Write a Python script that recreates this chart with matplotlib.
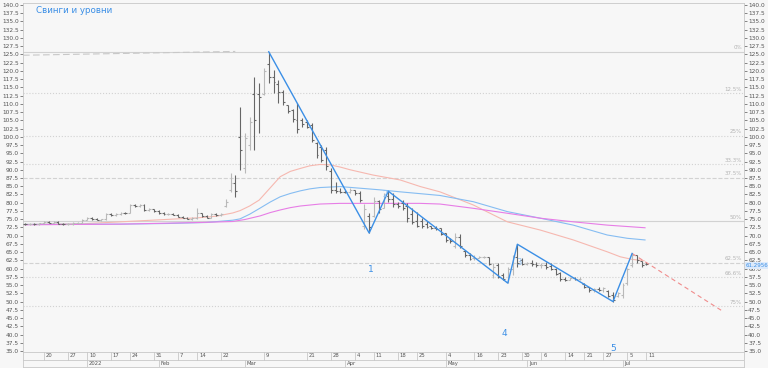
import matplotlib
matplotlib.use('Agg')
import matplotlib.pyplot as plt
import numpy as np

# OHLC bars, one per trading day (index = position on the x axis)
opens = [73.6, 73.5, 73.6, 73.4, 73.7, 74.1, 73.9, 74.2, 73.6, 73.5,
         73.6, 73.7, 73.8, 74.9, 75.4, 75.0, 74.8, 75.0, 76.5, 76.2,
         76.6, 77.0, 76.9, 79.2, 79.0, 79.4, 77.9, 78.0, 77.5, 76.8,
         76.6, 76.7, 76.4, 75.8, 75.5, 75.2, 75.3, 76.8, 75.9, 75.5,
         76.5, 76.3, 78.9, 84.0, 86.0, 100.0, 90.5, 97.5, 113.0, 113.0,
         113.0, 122.0, 118.0, 116.0, 113.5, 109.5, 108.0, 105.0, 105.0, 104.5,
         103.5, 98.0, 97.0, 96.0, 89.5, 84.0, 83.6, 83.4, 83.2, 83.8,
         83.0, 73.0, 76.0, 76.0, 80.5, 78.5, 82.0, 81.0, 79.5, 79.8,
         79.0, 76.5, 74.5, 74.5, 73.5, 72.8, 72.4, 72.2, 70.9, 69.0,
         67.0, 69.5, 65.4, 64.2, 63.2, 63.3, 63.5, 63.6, 58.0, 61.0,
         58.2, 56.0, 60.0, 63.5, 62.5, 61.5, 61.6, 61.3, 61.0, 61.2,
         60.8, 60.0, 58.6, 57.0, 56.6, 57.2, 56.8, 55.2, 54.4, 53.6,
         53.8, 53.5, 53.3, 52.0, 51.8, 52.0, 55.5, 61.0, 64.0, 62.2,
         61.5]
highs = [73.9, 73.8, 73.9, 73.8, 74.3, 74.4, 74.4, 74.3, 73.9, 73.8,
         74.0, 74.1, 75.1, 75.7, 75.6, 75.3, 75.2, 76.8, 77.0, 76.9,
         77.3, 77.3, 79.5, 79.6, 79.7, 79.6, 78.3, 78.2, 77.8, 77.1,
         76.9, 77.0, 76.6, 76.1, 75.8, 75.6, 78.4, 77.0, 76.2, 76.8,
         77.0, 76.9, 81.0, 89.1, 88.4, 109.1, 101.1, 106.1, 118.2, 116.2,
         120.8, 125.8, 120.3, 117.2, 114.2, 109.8, 108.3, 110.2, 105.6, 105.1,
         104.1, 98.5, 97.5, 97.0, 90.5, 86.4, 84.4, 84.0, 84.4, 83.9,
         83.6, 79.5, 76.9, 81.8, 80.8, 82.9, 83.5, 82.8, 80.3, 80.8,
         79.9, 78.4, 77.3, 75.3, 74.5, 72.9, 72.8, 72.2, 70.9, 69.3,
         70.7, 70.5, 65.6, 64.6, 64.0, 63.9, 63.9, 63.6, 61.6, 61.6,
         58.6, 60.6, 64.1, 67.4, 63.1, 62.1, 62.6, 62.0, 61.6, 62.1,
         61.6, 60.1, 59.1, 57.6, 57.6, 57.5, 57.4, 55.5, 54.5, 54.2,
         54.3, 54.5, 53.5, 53.0, 53.0, 55.5, 60.1, 64.6, 64.1, 62.4,
         62.0]
lows = [73.3, 73.3, 73.2, 73.2, 73.5, 73.8, 73.7, 73.5, 73.3, 73.2,
        73.3, 73.4, 73.7, 74.7, 74.9, 74.7, 74.5, 74.9, 75.9, 75.9,
        76.3, 76.6, 76.8, 78.8, 78.7, 77.6, 77.5, 77.3, 76.6, 76.3,
        76.2, 76.2, 75.6, 75.3, 75.0, 74.8, 75.1, 75.6, 75.3, 75.3,
        76.0, 75.9, 78.8, 83.3, 81.8, 89.9, 89.1, 96.0, 96.0, 101.1,
        112.7, 116.2, 113.2, 110.2, 109.6, 107.1, 104.6, 101.1, 103.1, 102.6,
        98.5, 93.5, 92.5, 89.9, 82.9, 82.9, 82.9, 82.9, 82.9, 82.4,
        80.3, 72.0, 70.8, 75.7, 77.0, 78.3, 80.3, 78.8, 78.4, 77.8,
        74.2, 73.5, 72.7, 72.2, 72.2, 71.9, 71.8, 70.2, 68.2, 67.7,
        66.2, 66.2, 63.6, 62.6, 62.6, 63.3, 63.2, 61.1, 57.1, 57.1,
        56.5, 55.6, 58.1, 60.6, 61.1, 61.0, 60.8, 60.6, 60.3, 60.0,
        59.6, 58.1, 56.1, 56.1, 56.6, 56.4, 56.4, 54.0, 53.0, 53.0,
        53.2, 53.0, 51.5, 50.0, 51.5, 51.0, 55.0, 60.6, 61.6, 60.6,
        61.0]
closes = [73.5, 73.6, 73.4, 73.7, 74.1, 73.9, 74.2, 73.6, 73.5, 73.6,
          73.7, 73.8, 74.9, 75.4, 75.0, 74.8, 75.0, 76.5, 76.2, 76.6,
          77.0, 76.9, 79.2, 79.0, 79.4, 77.9, 78.0, 77.5, 76.8, 76.6,
          76.7, 76.4, 75.8, 75.5, 75.2, 75.3, 76.8, 75.9, 75.5, 76.5,
          76.3, 76.7, 80.3, 86.0, 83.5, 96.0, 99.5, 104.5, 105.0, 112.0,
          120.0, 118.0, 116.5, 113.5, 110.5, 107.8, 105.5, 102.5, 104.0, 103.0,
          99.0, 94.5, 93.0, 91.0, 84.0, 83.6, 83.4, 83.2, 83.8, 82.8,
          80.8, 78.0, 72.5, 80.5, 78.0, 82.0, 81.0, 79.5, 79.0, 78.5,
          75.5, 74.0, 73.0, 72.8, 72.6, 72.2, 72.0, 70.6, 68.8, 68.3,
          69.5, 66.8, 64.2, 63.0, 63.3, 63.6, 63.6, 61.5, 60.5, 57.5,
          57.0, 60.0, 63.5, 61.8, 61.5, 61.6, 61.3, 61.0, 61.2, 60.5,
          60.0, 58.5, 56.8, 56.6, 57.2, 56.8, 56.9, 54.4, 53.4, 53.8,
          53.5, 54.2, 51.8, 50.5, 52.6, 55.0, 59.8, 64.0, 62.5, 61.2,
          61.3]
last_price = '61.2956'

# moving averages, read at sample points (bar index, value)
ma_fast_x = [0, 12, 24, 36, 40, 43.5, 45, 47, 49, 51.3, 53.4, 55.5, 57.6, 59.6,
             61.7, 63.8, 66, 68, 72.8, 78.5, 82.7, 86.8, 93.8, 100.9, 107.8,
             114.7, 121.8, 124.5, 127, 129.5]
ma_fast_y = [73.4, 73.6, 74.5, 75.4, 75.9, 76.9, 77.6, 79.0, 80.8, 84.5, 87.9,
             89.5, 90.4, 91.2, 91.6, 91.5, 90.8, 90.0, 88.4, 86.9, 84.9, 83.3,
             79.3, 74.2, 71.7, 68.7, 65.1, 63.6, 62.8, 62.4]
ma_mid_x = [0, 20, 30, 38, 43.5, 45, 47, 49, 51.3, 53.4, 55.5, 57.6, 59.6, 61.7,
            65.9, 70.1, 74.3, 78.5, 86.8, 93.8, 100.9, 107.8, 114.7, 121.8, 126,
            129.7]
ma_mid_y = [73.4, 73.5, 73.7, 74.0, 74.7, 75.1, 76.5, 78.2, 80.2, 81.8, 82.8,
            83.6, 84.2, 84.6, 84.9, 84.4, 83.9, 83.3, 82.2, 80.3, 77.3, 75.3,
            73.2, 70.2, 69.2, 68.7]
ma_slow_x = [0, 20, 36.6, 43.5, 46, 49.2, 51.3, 53.4, 55.5, 57.6, 61.7, 65.9,
             74.3, 82.7, 86.8, 93.8, 100.9, 107.8, 114.7, 121.8, 129.7]
ma_slow_y = [73.3, 73.5, 74.0, 74.3, 74.9, 76.0, 77.0, 77.8, 78.5, 79.0, 79.6,
             79.8, 79.8, 79.8, 79.6, 78.3, 76.8, 75.3, 74.2, 73.2, 72.4]

# swings
swing_x = [51, 72, 76, 101, 103, 123, 127]
swing_y = [125.8, 70.8, 83.5, 55.6, 67.4, 50.0, 64.6]
swing_labels = ['1', '2', '3', '4', '5']
swing_label_x = [72.4, 75.3, 103.4, 100.2, 123.0]
swing_label_y = [59.8, 82.6, 61.9, 40.2, 35.9]
proj_x = [127, 145.8]
proj_y = [64.6, 47.2]
upper_dash_x = [-0.4, 44]
upper_dash_y = [124.75, 125.9]

# levels
level_vals = [125.8, 113.2, 100.2, 91.7, 87.5, 74.4, 61.7, 57.4, 48.6]
level_names = ['0%', '12.5%', '25%', '33.3%', '37.5%', '50%', '62.5%', '66.6%', '75%']
level_styles = ['-', ':', ':', ':', '--', '-', '--', ':', ':']

# dates
day_pos = [4, 9, 13, 18, 22, 27, 32, 36, 41, 50, 59, 64, 69, 73, 78, 82, 88, 94,
           99, 104, 108, 113, 117, 121, 126, 130]
day_names = ['20', '27', '10', '17', '24', '31', '7', '14', '22', '9', '21', '28', '4',
             '11', '18', '25', '4', '16', '23', '30', '6', '14', '21', '27', '5', '11']
month_pos = [13, 28, 46, 67, 88, 105, 125]
month_names = ['2022', 'Feb', 'Mar', 'Apr', 'May', 'Jun', 'Jul']

BG = '#f7f7f7'
W, H = 768, 368
fig = plt.figure(figsize=(W / 100, H / 100), dpi=100, facecolor=BG)
ax = fig.add_axes([23 / W, 16 / H, 721 / W, 349 / H], facecolor=BG)
x_lo, x_hi = -0.4, 150.4
ax.set_xlim(x_lo, x_hi)
ax.set_ylim(34.7, 140.6)

for v, name, ls in zip(level_vals, level_names, level_styles):
    ax.axhline(v, color='#d2d2d2', lw=0.8, ls=ls, zorder=1)
    ax.text(x_hi - 0.4, v + 0.5, name, fontsize=4, color='#b4b4b4',
            ha='right', va='bottom')
ax.plot(upper_dash_x, upper_dash_y, color='#c8c8c8', lw=0.8, ls=(0, (6, 3)), zorder=1)

ax.plot(ma_fast_x, ma_fast_y, color='#f6b8b0', lw=0.8, zorder=2)
ax.plot(ma_mid_x, ma_mid_y, color='#86bdf2', lw=0.8, zorder=2)
ax.plot(ma_slow_x, ma_slow_y, color='#e77de6', lw=0.8, zorder=2)

idx = np.arange(len(opens))
o = np.array(opens)
c = np.array(closes)
cols = np.where(c >= o, '#b9b9b9', '#666666')
ax.vlines(idx, lows, highs, colors=cols, lw=0.8, zorder=3)
ax.hlines(o, idx - 0.4, idx, colors=cols, lw=0.8, zorder=3)
ax.hlines(c, idx, idx + 0.4, colors=cols, lw=0.8, zorder=3)

ax.plot(proj_x, proj_y, color='#f08c8c', lw=0.8, ls=(0, (4, 3)), zorder=4)
ax.plot(swing_x, swing_y, color='#3b8fe6', lw=1.0, zorder=5)
for lab, lx, ly in zip(swing_labels, swing_label_x, swing_label_y):
    faint = lab in ('2', '3')
    ax.text(lx, ly, lab, fontsize=6 if faint else 6.5,
            color='#8fc0f2' if faint else '#3b8fe6', ha='center', va='center', zorder=6)

ax.text(0.018, 0.99, 'Свинги и уровни', transform=ax.transAxes, fontsize=6.3,
        color='#3b8fe6', ha='left', va='top')

ticks = np.arange(35, 140.1, 2.5)
ax.set_yticks(ticks)
ax.set_yticklabels([f'{t:.1f}' for t in ticks])
ax.tick_params(axis='y', which='both', left=True, right=True, labelleft=True,
               labelright=True, labelsize=4.2, colors='#555555', length=2,
               width=0.5, pad=1)
ax.set_xticks([])
for s in ax.spines.values():
    s.set_color('#c8c8c8')
    s.set_linewidth(0.6)

ax.text(x_hi + 0.3, 61.0, last_price, fontsize=4, color='#3b8fe6', ha='left',
        va='center', clip_on=False,
        bbox=dict(boxstyle='square,pad=0.15', fc='#dceafb', ec='none'))

# date strip below the chart
axd = fig.add_axes([23 / W, 1 / H, 721 / W, 15 / H], facecolor=BG)
axd.set_xlim(x_lo, x_hi)
axd.set_ylim(0, 2)
axd.set_xticks([])
axd.set_yticks([])
for s in axd.spines.values():
    s.set_color('#c8c8c8')
    s.set_linewidth(0.6)
axd.axhline(1, color='#c8c8c8', lw=0.6)
for p, name in zip(day_pos, day_names):
    axd.plot([p, p], [1, 2], color='#c8c8c8', lw=0.6)
    axd.text(p + 0.4, 1.5, name, fontsize=3.8, color='#555555', ha='left', va='center')
for p, name in zip(month_pos, month_names):
    axd.plot([p, p], [0, 1], color='#c8c8c8', lw=0.6)
    axd.text(p + 0.4, 0.5, name, fontsize=3.8, color='#555555', ha='left', va='center')

fig.savefig('out.png', dpi=100, facecolor=BG)
